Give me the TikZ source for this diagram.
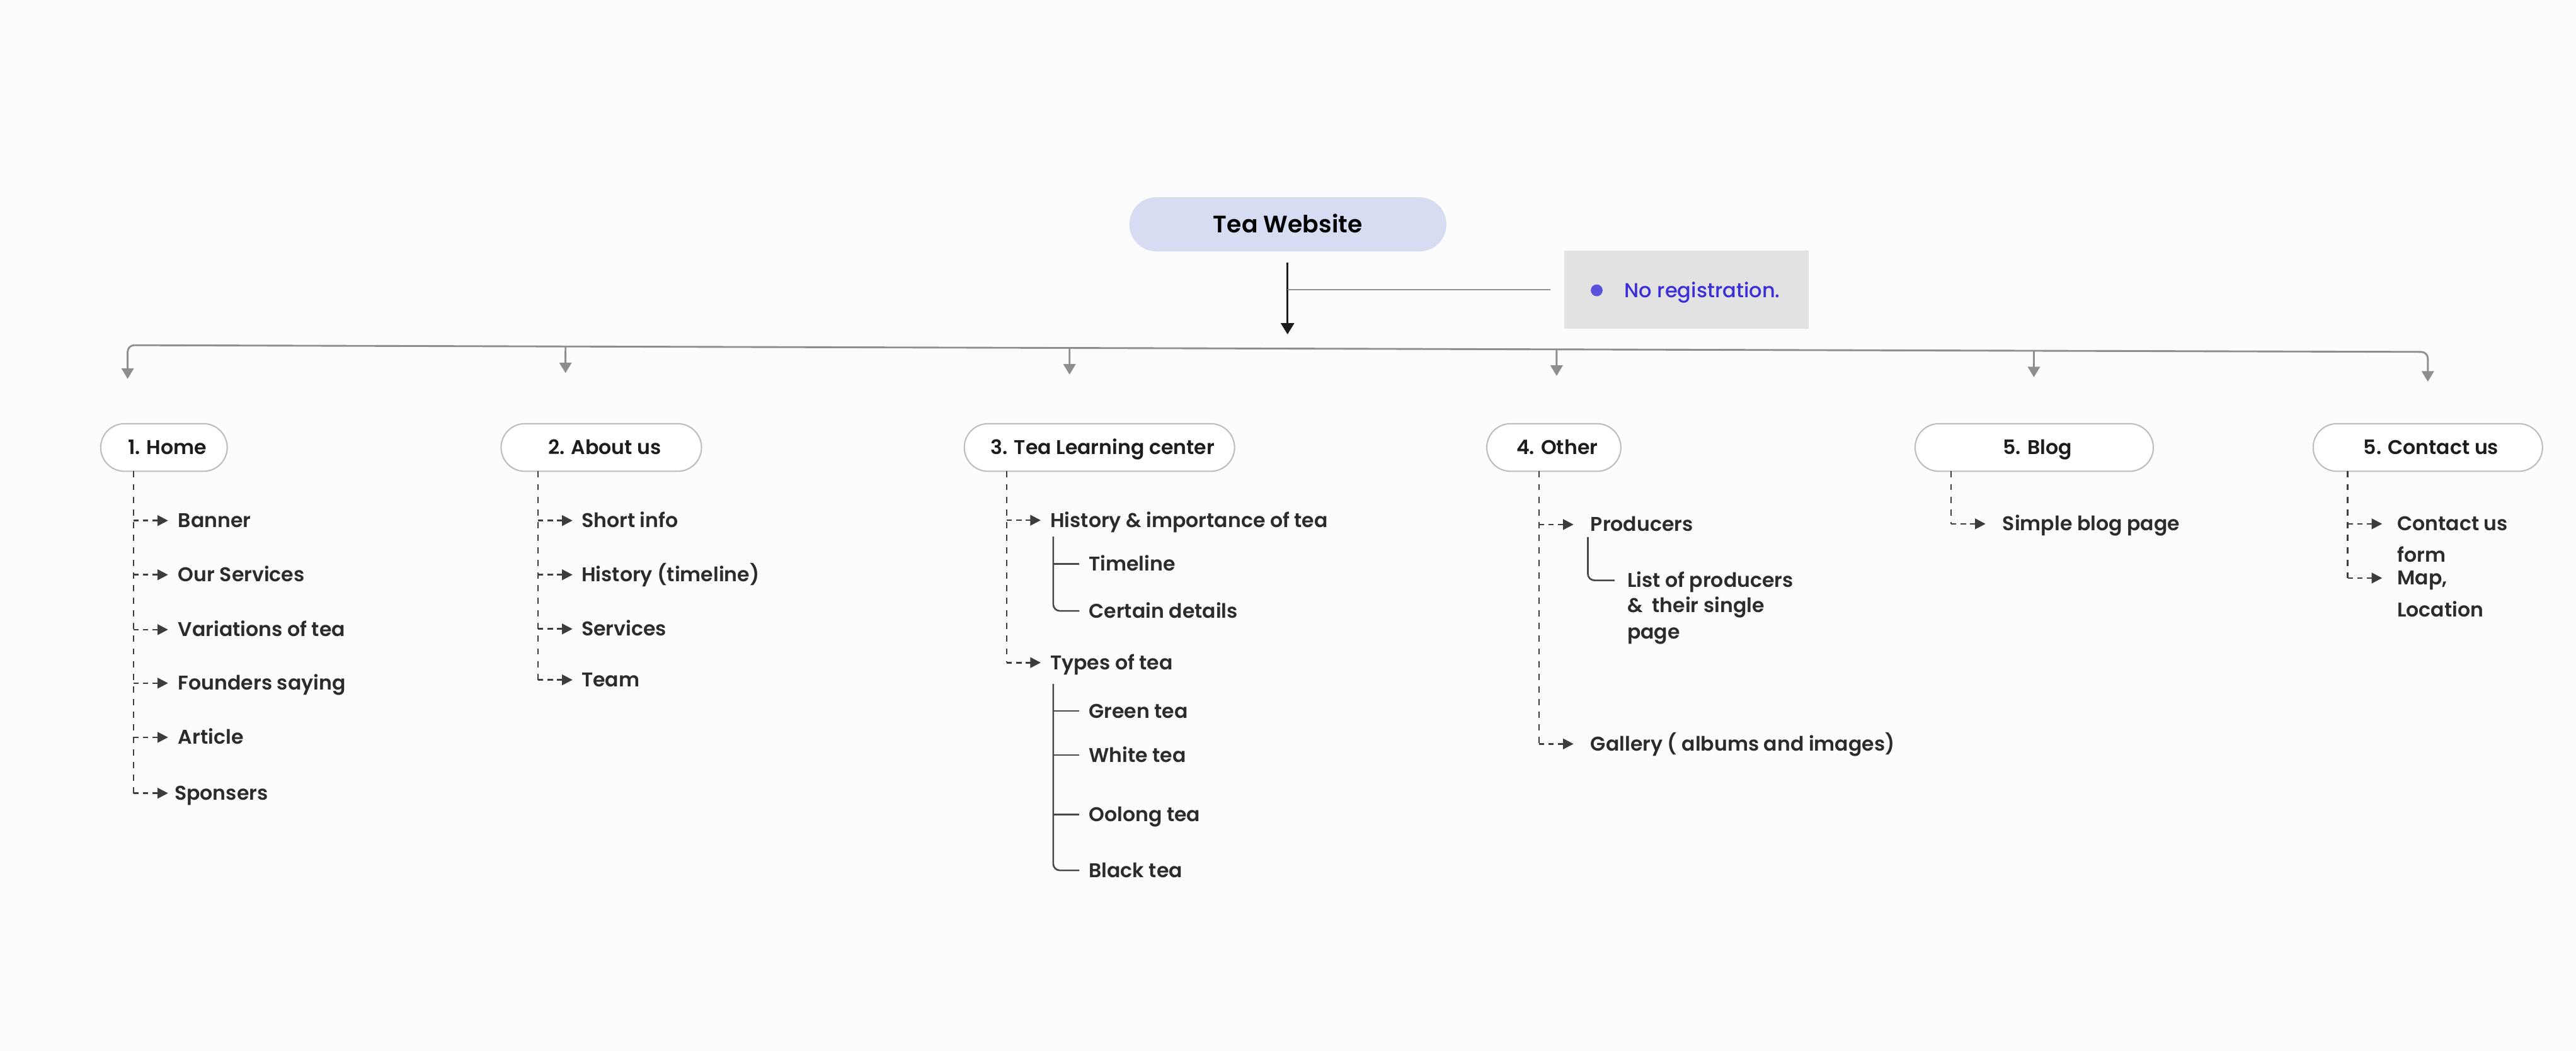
\documentclass[tikz,border=0pt]{standalone}
\usepackage{fontspec}
\setmainfont{Poppins}[UprightFont={* Medium},BoldFont={* SemiBold}]
\usetikzlibrary{arrows.meta,calc}
\definecolor{bg}{HTML}{FCFCFC}
\definecolor{ink}{HTML}{2B2B2B}
\definecolor{inkdark}{HTML}{1C1C1C}
\definecolor{busc}{HTML}{8E8E8E}
\definecolor{boxline}{HTML}{BDBDBD}
\definecolor{dashc}{HTML}{3C3C3C}
\definecolor{treec}{HTML}{474747}
\definecolor{topfill}{HTML}{D6DDF3}
\definecolor{notefill}{HTML}{E2E2E2}
\definecolor{notetext}{HTML}{3A2FD6}
\definecolor{bulletc}{HTML}{5B50D9}
\begin{document}
\begin{tikzpicture}[x=1pt,y=-1pt,
  every node/.style={inner sep=0pt,outer sep=0pt},
  topbox/.style={fill=topfill,rounded corners=16.5pt,minimum width=193pt,minimum height=33pt,
    font=\bfseries\fontsize{14.5}{17}\selectfont,text=black,text height=10.3pt,text depth=0pt},
  notebox/.style={fill=notefill,minimum width=149pt,minimum height=47.3pt},
  sect/.style={draw=boxline,line width=0.8pt,fill=white,rounded corners=14.5pt,minimum height=29pt,
    font=\bfseries\fontsize{12.1}{14}\selectfont,text=inkdark,text height=8.4pt,text depth=0pt,
    execute at begin node=\hspace*{4pt}},
  leaf/.style={anchor=west,font=\bfseries\fontsize{12.1}{14}\selectfont,text=ink,text height=8.4pt,text depth=0pt},
  dashv/.style={draw=dashc,line width=1pt,dash pattern=on 3.8pt off 3.9pt},
  dashbr/.style={draw=dashc,line width=1pt,dash pattern=on 3.2pt off 2.6pt,
    -{Triangle[length=6.4pt,width=6.4pt]},shorten >=#1},
  tree/.style={draw=treec,line width=1pt,rounded corners=4pt},
  bus/.style={draw=busc,line width=1.1pt},
  bustip/.style={-{Triangle[length=6.4pt,width=7.4pt]}}
]
\useasboundingbox (0,0) rectangle (1568,640);
\fill[bg] (0,0) rectangle (1568,640);

% root
\node[topbox] (tw) at (783.9,136.6) {Tea Website};
\coordinate (join) at (783.7,203.6);
\draw[draw=inkdark,line width=1.1pt,-{Triangle[length=6.8pt,width=8pt]},shorten <=6.8pt] (tw.south -| join) -- (join);

% note
\node[notebox] (note) at (1026.5,176.4) {};
\node[circle,fill=bulletc,minimum size=7.2pt] (bul) at (971.9,176.8) {};
\node[anchor=west,font=\fontsize{12.3}{15}\selectfont,text=notetext,text height=8.7pt,text depth=0pt] (notetxt) at (988.9,177) {No registration.};
\draw[bus,shorten <=8.4pt] (note.west) -- (note.west -| join);

% bus
\coordinate (busL) at (77.7,210.2);
\coordinate (busR) at (1477.8,214.3);
\coordinate (dropH) at (77.7,230.7);
\coordinate (dropC) at (1477.8,232.4);
\draw[bus,rounded corners=4pt,{Triangle[length=6.4pt,width=7.4pt]}-{Triangle[length=6.4pt,width=7.4pt]}] (dropH) -- (busL) -- (busR) -- (dropC);
\coordinate (dA) at (344.2,227.2);
\coordinate (dT) at (651,228.1);
\coordinate (dO) at (947.5,228.9);
\coordinate (dB) at (1238,229.7);
\foreach \d in {dA,dT,dO,dB}{\draw[bus,bustip] ($(busL)!(\d)!(busR)$) -- (\d);}

% sections
\node[sect,minimum width=77pt] (home) at (99.8,272.5) {1. Home};
\node[sect,minimum width=122pt] (about) at (366,272.5) {2. About us};
\node[sect,minimum width=164.5pt] (tlc) at (669.2,272.5) {3. Tea Learning center};
\node[sect,minimum width=81.6pt] (other) at (945.8,272.5) {4. Other};
\node[sect,minimum width=145pt] (blog) at (1238.2,272.5) {5. Blog};
\node[sect,minimum width=139.6pt] (contact) at (1477.8,272.5) {5. Contact us};

% 1. Home
\coordinate (hx) at (81.3,0);
\node[leaf] (h1) at (108.5,317) {Banner};
\node[leaf] (h2) at (108.5,350) {Our Services};
\node[leaf] (h3) at (108.5,383.4) {Variations of tea};
\node[leaf] (h4) at (108.5,416) {Founders saying};
\node[leaf] (h5) at (108.5,449) {Article};
\node[leaf] (h6) at (106.3,483) {Sponsers};
\draw[dashv] (home.south -| hx) -- (hx |- h6.west);
\foreach \n in {h1,h2,h3,h4,h5}{\draw[dashbr=6.2pt] (hx |- \n.west) -- (\n.west);}
\draw[dashbr=4pt] (hx |- h6.west) -- (h6.west);

% 2. About us
\coordinate (ax) at (327.5,0);
\node[leaf] (a1) at (354,317) {Short info};
\node[leaf] (a2) at (354,350) {History (timeline)};
\node[leaf] (a3) at (354,383) {Services};
\node[leaf] (a4) at (354,414) {Team};
\draw[dashv] (about.south -| ax) -- (ax |- a4.west);
\foreach \n in {a1,a2,a3,a4}{\draw[dashbr=5.5pt] (ax |- \n.west) -- (\n.west);}

% 3. Tea Learning center
\coordinate (tx) at (612.8,0);
\node[leaf] (t1) at (639.3,316.8) {History \& importance of tea};
\node[leaf] (t2) at (639.3,403.5) {Types of tea};
\draw[dashv] (tlc.south -| tx) -- (tx |- t2.west);
\foreach \n in {t1,t2}{\draw[dashbr=5.8pt] (tx |- \n.west) -- (\n.west);}
\node[leaf] (t1a) at (662.8,343.4) {Timeline};
\node[leaf] (t1b) at (662.8,372) {Certain details};
\coordinate (tv1) at (641.1,326.8);
\draw[tree,shorten >=5.8pt] (tv1) |- (t1b.west);
\draw[tree,shorten >=5.8pt] (tv1 |- t1a.west) -- (t1a.west);
\node[leaf] (t2a) at (662.8,433) {Green tea};
\node[leaf] (t2b) at (662.8,459.8) {White tea};
\node[leaf] (t2c) at (662.8,496) {Oolong tea};
\node[leaf] (t2d) at (662.8,530) {Black tea};
\coordinate (tv2) at (641.1,416.5);
\draw[tree,shorten >=5.8pt] (tv2) |- (t2d.west);
\foreach \n in {t2a,t2b,t2c}{\draw[tree,shorten >=5.8pt] (tv2 |- \n.west) -- (\n.west);}

% 4. Other
\coordinate (ox) at (936.8,0);
\node[leaf] (o1) at (968.2,319.4) {Producers};
\node[leaf] (o2) at (968.2,453) {Gallery ( albums and images)};
\draw[dashv] (other.south -| ox) -- (ox |- o2.west);
\foreach \n in {o1,o2}{\draw[dashbr=10.4pt] (ox |- \n.west) -- (\n.west);}
\node[leaf] (p1) at (990.5,353.4) {List of producers};
\node[leaf] (p2) at (990.5,368.7) {\&\ \ their single};
\node[leaf] (p3) at (990.5,384.7) {page};
\coordinate (ov) at (966.5,327);
\draw[tree,shorten >=7.7pt] (ov) |- (p1.west);

% 5. Blog
\coordinate (bx) at (1187.6,0);
\node[leaf] (s1) at (1219,319) {Simple blog page};
\draw[dashv] (blog.south -| bx) -- (bx |- s1.west);
\draw[dashbr=10.4pt] (bx |- s1.west) -- (s1.west);

% 5. Contact us
\coordinate (cx) at (1429,0);
\node[leaf] (c1) at (1459.2,319) {Contact us};
\node[leaf] (c1b) at (1459.2,338) {form};
\node[leaf] (c2) at (1459.2,352) {Map,};
\node[leaf] (c2b) at (1459.2,371.5) {Location};
\draw[dashv] (contact.south -| cx) -- (cx |- c2.west);
\foreach \n in {c1,c2}{\draw[dashbr=9.2pt] (cx |- \n.west) -- (\n.west);}
\end{tikzpicture}
\end{document}
